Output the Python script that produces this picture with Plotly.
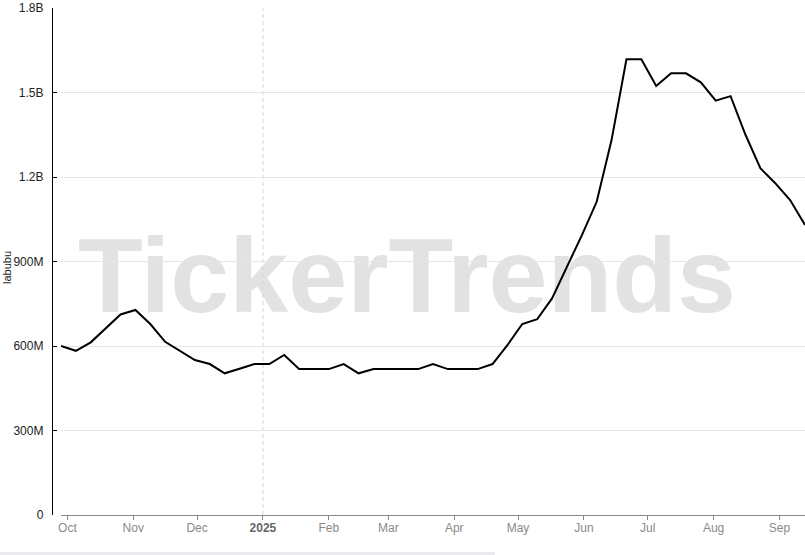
import pandas as pd
import plotly.graph_objects as go

# ---- data ----
start_date = "2024-09-28"
n_weeks = 51
dates = pd.date_range(start_date, periods=n_weeks, freq="7D")

labubu = [
    0.600, 0.583, 0.613, 0.663, 0.712, 0.728, 0.678, 0.615, 0.583, 0.550,
    0.536, 0.503, 0.519, 0.536, 0.536, 0.568, 0.518, 0.518, 0.518, 0.536,
    0.503, 0.518, 0.518, 0.518, 0.518, 0.536, 0.518, 0.518, 0.518, 0.536,
    0.603, 0.678, 0.695, 0.769, 0.880, 0.993, 1.112, 1.331, 1.618, 1.618,
    1.523, 1.568, 1.568, 1.536, 1.471, 1.487, 1.350, 1.231, 1.178, 1.118,
    1.030,
]
labubu = [v * 1e9 for v in labubu]

x_tickvals = ["2024-10-01", "2024-11-01", "2024-12-01", "2025-01-01", "2025-02-01",
              "2025-03-01", "2025-04-01", "2025-05-01", "2025-06-01", "2025-07-01",
              "2025-08-01", "2025-09-01"]
x_ticktext = ["Oct", "Nov", "Dec", "<span style='color:#666'><b>2025</b></span>", "Feb",
              "Mar", "Apr", "May", "Jun", "Jul", "Aug", "Sep"]

y_tickvals = [0, 3e8, 6e8, 9e8, 1.2e9, 1.5e9, 1.8e9]
y_ticktext = ["0", "300M", "600M", "900M", "1.2B", "1.5B", "1.8B"]

year_marker = "2025-01-01"
watermark = "TickerTrends"
series_name = "labubu"

# ---- figure ----
W, H = 805, 555
ml, mr, mt, mb = 52, 0, 8, 40
plot_w = W - ml - mr
plot_h = H - mt - mb
font_family = "Liberation Sans, Arial, Helvetica, sans-serif"

fig = go.Figure()
fig.add_trace(go.Scatter(
    x=dates, y=labubu, mode="lines", name=series_name,
    line=dict(color="#000000", width=2),
    hoverinfo="x+y",
))

fig.update_layout(
    width=W, height=H,
    margin=dict(l=ml, r=mr, t=mt, b=mb, pad=0),
    paper_bgcolor="white", plot_bgcolor="white",
    showlegend=False,
    font=dict(family=font_family, size=12, color="#222"),
    xaxis=dict(
        type="date",
        domain=[9 / plot_w, 1],
        range=[dates[0], dates[-1]],
        tickmode="array", tickvals=x_tickvals, ticktext=x_ticktext,
        showgrid=False, zeroline=False,
        showline=True, linecolor="#888", linewidth=1,
        ticks="outside", ticklen=4, tickcolor="#888", tickwidth=1,
        tickfont=dict(size=12, color="#8a8a8a", family=font_family),
        ticklabelstandoff=-2,
    ),
    yaxis=dict(
        range=[0, 1.8e9],
        anchor="free", position=0,
        tickmode="array", tickvals=y_tickvals, ticktext=y_ticktext,
        showgrid=True, gridcolor="#e1e7f0", gridwidth=1,
        zeroline=False,
        showline=True, linecolor="#000", linewidth=1.3,
        ticks="inside", ticklen=4, tickcolor="#000", tickwidth=1,
        tickfont=dict(size=12, color="#222", family=font_family),
        ticklabelstandoff=6,
    ),
)

# watermark (below gridlines)
cx = (407 - ml) / plot_w
cy = (H - mb - 265) / plot_h
fig.add_shape(
    type="rect", xref="paper", yref="paper",
    x0=cx - 0.46, x1=cx + 0.46, y0=cy - 0.12, y1=cy + 0.12,
    line=dict(width=0), fillcolor="rgba(0,0,0,0)", layer="below",
    label=dict(text=watermark, textposition="middle center",
               font=dict(size=106, color="#e2e2e2", family=font_family, weight="bold")),
)

# dashed year marker
fig.add_shape(
    type="line", xref="x", yref="paper",
    x0=year_marker, x1=year_marker, y0=0, y1=1,
    line=dict(color="#cfd6de", width=1, dash="4px,3px"), layer="below",
)

# y-axis title
fig.add_annotation(
    text=series_name, xref="paper", yref="paper",
    x=-(ml - 7) / plot_w, y=(H - mb - 268) / plot_h,
    xanchor="center", yanchor="middle", textangle=-90,
    showarrow=False, font=dict(size=11, color="#222", family=font_family),
)

# faint bar at bottom of page
fig.add_shape(
    type="rect", xref="paper", yref="paper",
    x0=-ml / plot_w, x1=(495 - ml) / plot_w,
    y0=-(552 - (H - mb)) / plot_h, y1=-(555 - (H - mb)) / plot_h,
    line=dict(width=0), fillcolor="#ebebef", layer="above",
)

fig.write_html("out.html", config={"displayModeBar": False},
               post_script="document.body.style.margin='0';")
